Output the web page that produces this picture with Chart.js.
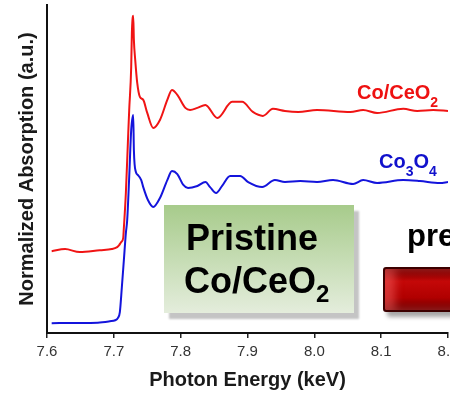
<!DOCTYPE html>
<html>
<head>
<meta charset="utf-8">
<script src="https://cdn.jsdelivr.net/npm/chart.js@4.4.1/dist/chart.umd.min.js"></script>
<style>
  html, body { margin: 0; padding: 0; background: #fff; }
  #wrap { position: relative; width: 450px; height: 397px; overflow: hidden; font-family: 'Liberation Sans', Arial, sans-serif; }
  #xas { position: absolute; left: 0; top: 0; }
  .lbl { position: absolute; font-weight: bold; line-height: 1; white-space: nowrap; }
  #box { position: absolute; left: 164px; top: 205px; width: 190px; height: 108px;
         background: linear-gradient(to bottom, #a7cb8b, #e4eddc); box-shadow: 5px 6px 2px #c4c4c4; }
  #btn { position: absolute; left: 383px; top: 267px; width: 90px; height: 45px; box-sizing: border-box;
         border: 2px solid #3c0000; border-radius: 3px;
         background: linear-gradient(to bottom, #6e0000, #c40808 30%, #b00000 70%, #6a0000);
         box-shadow: 4px 5px 4px rgba(0,0,0,0.35), inset 10px 0 8px rgba(255,110,110,0.45); }
</style>
</head>
<body>
<div id="wrap">
  <canvas id="xas" width="470" height="397"></canvas>
  <div class="lbl" style="left:357px;top:82px;font-size:20px;color:#ee1111">Co/CeO<span style="font-size:14px;vertical-align:-8px">2</span></div>
  <div class="lbl" style="left:379px;top:151px;font-size:20px;color:#1111cc">Co<span style="font-size:14px;vertical-align:-8px">3</span>O<span style="font-size:14px;vertical-align:-8px">4</span></div>
  <div id="box"></div>
  <div class="lbl" style="left:186px;top:220px;font-size:36px;color:#000">Pristine</div>
  <div class="lbl" style="left:184px;top:263px;font-size:36px;color:#000">Co/CeO<span style="font-size:24px;vertical-align:-9px">2</span></div>
  <div class="lbl" style="left:407px;top:220px;font-size:31px;color:#000">pre</div>
  <div id="btn"></div>
</div>
<script>
const xTicks = [7.6, 7.7, 7.8, 7.9, 8.0, 8.1, 8.2];
const seriesNames = ['Co/CeO2', 'Co3O4'];

// Co/CeO2 (red, offset upward)
const ceo2Energy = [7.607, 7.627, 7.649, 7.679, 7.697, 7.705, 7.708, 7.711, 7.714, 7.715, 7.718, 7.721, 7.723, 7.726, 7.727, 7.729, 7.730, 7.732, 7.735, 7.739, 7.744, 7.750, 7.759, 7.769, 7.780, 7.787, 7.795, 7.807, 7.814, 7.825, 7.837, 7.855, 7.877, 7.892, 7.908, 7.923, 7.938, 7.956, 7.976, 8.004, 8.054, 8.073, 8.094, 8.133, 8.154, 8.178, 8.2];
const ceo2Abs = [0.514, 0.529, 0.507, 0.521, 0.529, 0.543, 0.557, 0.579, 0.607, 0.679, 0.929, 1.286, 1.521, 1.829, 2.071, 2.193, 2.021, 1.879, 1.714, 1.614, 1.593, 1.500, 1.393, 1.450, 1.593, 1.664, 1.629, 1.536, 1.521, 1.536, 1.557, 1.464, 1.579, 1.579, 1.507, 1.479, 1.529, 1.514, 1.507, 1.521, 1.507, 1.521, 1.500, 1.529, 1.514, 1.521, 1.514];

// Co3O4 reference (blue)
const co3o4Energy = [7.607, 7.642, 7.676, 7.694, 7.702, 7.706, 7.709, 7.712, 7.715, 7.718, 7.720, 7.723, 7.726, 7.729, 7.730, 7.733, 7.736, 7.741, 7.744, 7.751, 7.759, 7.769, 7.780, 7.787, 7.795, 7.804, 7.811, 7.825, 7.837, 7.844, 7.853, 7.862, 7.874, 7.889, 7.901, 7.922, 7.941, 7.956, 7.979, 8.004, 8.028, 8.058, 8.073, 8.094, 8.133, 8.158, 8.188, 8.2];
const co3o4Abs = [0.000, 0.002, 0.004, 0.014, 0.021, 0.036, 0.079, 0.257, 0.450, 0.643, 0.736, 1.043, 1.379, 1.486, 1.236, 1.079, 1.057, 1.021, 0.971, 0.879, 0.829, 0.893, 1.021, 1.086, 1.064, 0.986, 0.964, 0.979, 1.007, 0.971, 0.929, 0.979, 1.050, 1.050, 1.007, 0.971, 1.021, 1.007, 1.014, 1.007, 1.021, 0.993, 1.021, 1.000, 1.021, 1.014, 1.000, 1.007];

const toPoints = (xs, ys) => xs.map((x, i) => ({ x, y: ys[i] }));

Chart.defaults.font.family = "'Liberation Sans', Arial, sans-serif";

new Chart(document.getElementById('xas'), {
  type: 'line',
  data: {
    datasets: [
      { label: seriesNames[1], data: toPoints(co3o4Energy, co3o4Abs), borderColor: '#1414dc', borderWidth: 2, pointRadius: 0, cubicInterpolationMode: 'monotone' },
      { label: seriesNames[0], data: toPoints(ceo2Energy, ceo2Abs), borderColor: '#f01414', borderWidth: 2, pointRadius: 0, cubicInterpolationMode: 'monotone' }
    ]
  },
  options: {
    responsive: false,
    animation: false,
    layout: { padding: { top: 5, right: 22, left: 0, bottom: 0 } },
    plugins: { legend: { display: false }, tooltip: { enabled: false } },
    scales: {
      x: {
        type: 'linear', min: 7.6, max: 8.2,
        afterBuildTicks: s => { s.ticks = xTicks.map(v => ({ value: v })); },
        afterFit: s => { s.height = 64; },
        ticks: { color: '#333', font: { size: 15 }, padding: 5, maxRotation: 0, autoSkip: false, callback: v => Number(v).toFixed(1) },
        grid: { display: true, drawOnChartArea: false, tickLength: 5, color: '#222', lineWidth: 1.5 },
        border: { color: '#111', width: 2 },
        title: { display: true, text: 'Photon Energy (keV)', color: '#1a1a1a', font: { size: 20, weight: 'bold' }, padding: { top: 0, bottom: 5 } }
      },
      y: {
        min: -0.07, max: 2.27,
        afterFit: s => { s.width = 47; },
        ticks: { display: false },
        grid: { display: false },
        border: { color: '#111', width: 2 },
        title: { display: true, text: 'Normalized Absorption (a.u.)', color: '#1a1a1a', font: { size: 20, weight: 'bold' }, padding: { top: 15, bottom: 0 } }
      }
    }
  }
});
</script>
</body>
</html>
